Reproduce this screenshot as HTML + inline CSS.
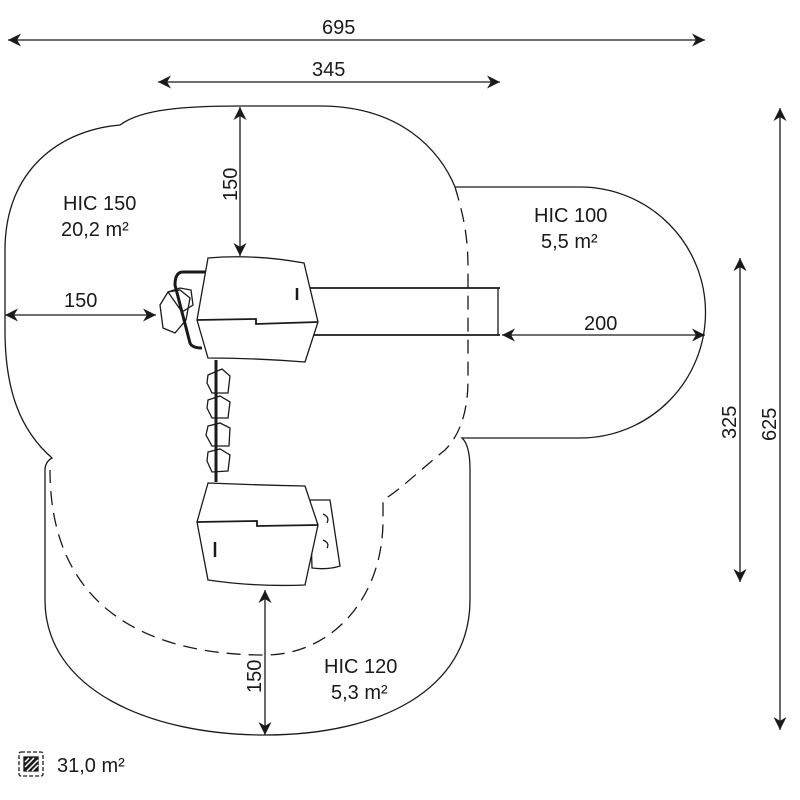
<!DOCTYPE html>
<html><head><style>body{margin:0;background:#fff}svg{display:block}text{font-family:"Liberation Sans",sans-serif;font-size:20px;fill:#1a1a1a}</style></head>
<body>
<svg width="800" height="800" viewBox="0 0 800 800" xmlns="http://www.w3.org/2000/svg">
<defs>
<marker id="a" viewBox="0 0 10 10" refX="10" refY="5" markerWidth="13" markerHeight="13" markerUnits="userSpaceOnUse" orient="auto-start-reverse"><path d="M0,0 L10,5 L0,10 L3,5 z" fill="#1a1a1a"/></marker>
</defs>
<g fill="none" stroke="#1a1a1a" stroke-width="1.3">
<path d="M455,187 L580,187 A125.5,125.5 0 0 1 580,438 L462,438 Q470,445 470,470 L470,600 C470,690 380,735 265,735 C150,735 45,690 45,600 L45,470 Q45,462 52,458 C20,430 5,390 5,330 L5,250 C5,170 60,130 120,125 C140,110 180,106 240,106 L320,106 C400,106 440,150 455,187"/>
<path stroke-dasharray="14,8" d="M455,187 C465,220 468,240 468,270 L468,380 C468,420 455,440 445,450 C420,470 400,490 383,500 L383,520 C383,600 330,655 265,655 C150,655 50,610 50,470"/>
<line x1="8" y1="40" x2="705" y2="40" marker-start="url(#a)" marker-end="url(#a)"/>
<line x1="158" y1="82" x2="500" y2="82" marker-start="url(#a)" marker-end="url(#a)"/>
<line x1="240" y1="107" x2="240" y2="256" marker-start="url(#a)" marker-end="url(#a)"/>
<line x1="5" y1="315" x2="156" y2="315" marker-start="url(#a)" marker-end="url(#a)"/>
<line x1="502" y1="335" x2="705" y2="335" marker-start="url(#a)" marker-end="url(#a)"/>
<line x1="740" y1="258" x2="740" y2="582" marker-start="url(#a)" marker-end="url(#a)"/>
<line x1="780" y1="108" x2="780" y2="730" marker-start="url(#a)" marker-end="url(#a)"/>
<line x1="265" y1="590" x2="265" y2="735" marker-start="url(#a)" marker-end="url(#a)"/>
<line x1="310" y1="288" x2="500" y2="288" stroke-width="1.8"/>
<line x1="313" y1="335" x2="500" y2="335" stroke-width="1.8"/>
<line x1="498" y1="288" x2="498" y2="335"/>
<path d="M205,272 L183,272 Q175,272 175,285 L190,343 Q192,348 202,348" stroke-width="3"/>
<path d="M160,305 L168,292 L180,290 L190,298 L186,320 L175,333 L163,328 Z M168,292 L180,288 L191,290 L193,305 L182,312 Z"/>
<line x1="216" y1="360" x2="216" y2="482" stroke-width="3"/>
<path d="M208,375 L222,369 L230,376 L228,393 L212,393 L207,383 Z M208,400 L220,396 L230,402 L228,418 L212,418 L207,408 Z M208,426 L220,423 L230,428 L229,446 L212,446 L206,435 Z M208,452 L220,449 L230,455 L228,471 L212,472 L207,461 Z"/>
<path d="M208,258 Q255,254 304,263 L318,322 L305,362 Q255,358 208,358 L197,320 Z" fill="#fff"/>
<path d="M197,320 L256,319 L256,324 L318,322" stroke-width="1.8"/>
<line x1="297" y1="288" x2="297" y2="300" stroke-width="2.5"/>
<path d="M310,500 L330,500 L340,566 Q328,570 312,568 Z" fill="#fff"/>
<path d="M323,514 Q330,517 327,523 M323,540 Q330,543 327,548"/>
<path d="M208,483 Q255,485 305,486 L318,525 L305,585 Q255,587 208,580 L197,522 Z" fill="#fff"/>
<path d="M197,522 L257,521 L257,526 L318,525" stroke-width="1.8"/>
<line x1="215" y1="542" x2="215" y2="557" stroke-width="2.5"/>
<rect x="19" y="752" width="24" height="24" stroke-dasharray="4,2" rx="2"/>
<rect x="24" y="757" width="14" height="14" fill="#1a1a1a"/>
</g>
<g stroke="#fff" stroke-width="1.5"><line x1="25" y1="762" x2="29" y2="758"/><line x1="25" y1="767" x2="34" y2="758"/><line x1="27" y1="771" x2="38" y2="760"/><line x1="32" y1="771" x2="38" y2="765"/></g>
<text x="322" y="34">695</text>
<text x="312" y="76">345</text>
<text x="64" y="307">150</text>
<text x="584" y="330">200</text>
<text x="63" y="210">HIC 150</text>
<text x="61" y="236">20,2 m²</text>
<text x="534" y="222">HIC 100</text>
<text x="541" y="248">5,5 m²</text>
<text x="324" y="673">HIC 120</text>
<text x="331" y="699">5,3 m²</text>
<text x="57" y="772">31,0 m²</text>
<text transform="translate(237,201) rotate(-90)">150</text>
<text transform="translate(261,693) rotate(-90)">150</text>
<text transform="translate(736,439) rotate(-90)">325</text>
<text transform="translate(776,441) rotate(-90)">625</text>
</svg>
</body></html>
